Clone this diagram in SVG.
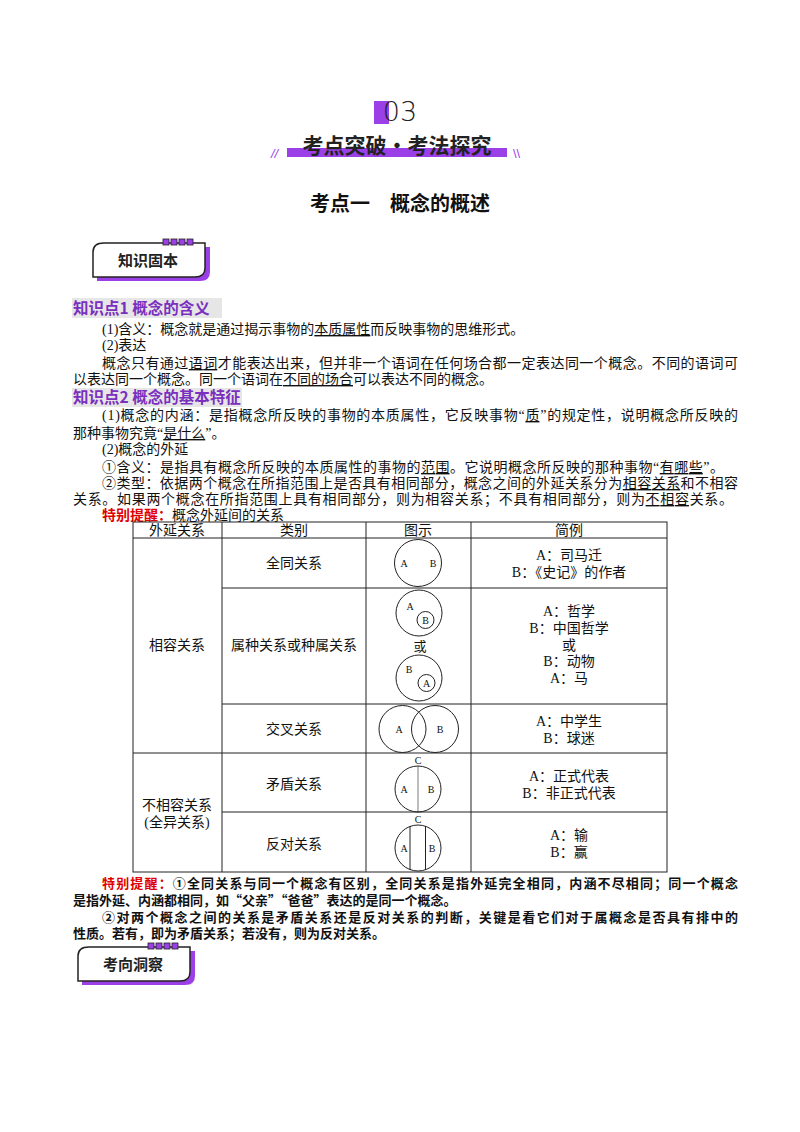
<svg xmlns="http://www.w3.org/2000/svg" width="800" height="1132" viewBox="0 0 800 1132">
<style>
.t{font-family:"Liberation Serif","Noto Sans CJK SC",serif;font-size:14px;fill:#111}
.c{text-anchor:middle}
.h{font-family:"Noto Sans CJK SC",sans-serif;font-weight:bold;font-size:15.5px;fill:#7a2fbf}
.b{font-family:"Noto Sans CJK SC",sans-serif;font-weight:bold}
.red{fill:#e00000;font-weight:bold}
.ln{stroke:#222;stroke-width:1;fill:none}
.sm{font-family:"Liberation Serif",serif;font-size:10px;fill:#111;text-anchor:middle}
.u{text-decoration:underline}
</style>
<rect width="800" height="1132" fill="#fff"/>
<g id="header">
<rect x="374" y="101" width="15" height="23" fill="#9b3fe6"/>
<text x="400" y="121" class="c" font-family="DejaVu Sans,sans-serif" font-size="27" font-weight="300" fill="#222">03</text>
<rect x="287" y="148" width="220" height="9" fill="#9b3fe6"/>
<text x="397" y="153" class="c b" font-size="21" fill="#222">考点突破•考法探究</text>
<text x="271" y="158" font-family="Liberation Sans,sans-serif" font-style="italic" font-size="13" fill="#9b3fe6">//</text>
<text x="513" y="158" font-family="Liberation Sans,sans-serif" font-size="13" fill="#9b3fe6">\\</text>
<text x="400" y="211" class="c b" font-size="20" fill="#111">考点一　概念的概述</text>
</g>
<g id="badge1">
<path d="M97 257 Q97 248 108 247 L210 247 L210 272 Q210 281 200 281 L97 281 Z" fill="#9b3fe6"/>
<path d="M93 252 Q93 243 104 243 L205 243 L205 268 Q205 277 195 277 L93 277 Z" fill="#fff" stroke="#222" stroke-width="1.5"/>
<g fill="#9b3fe6" stroke="#222" stroke-width="0.8"><rect x="163" y="239" width="6" height="6"/><rect x="171" y="239" width="6" height="6"/><rect x="179" y="239" width="6" height="6"/><rect x="187" y="239" width="6" height="6"/></g>
<text x="148" y="266" class="c b" font-size="15" fill="#222">知识固本</text>
</g>
<g id="body">
<rect x="72" y="298" width="150" height="20" fill="#e6e6e6"/>
<text x="73" y="314" class="h">知识点1  概念的含义</text>
<text x="102" y="334" class="t">(1)含义：概念就是通过揭示事物的<tspan class="u">本质属性</tspan>而反映事物的思维形式。</text>
<text x="102" y="350" class="t">(2)表达</text>
<text x="102" y="368" class="t" textLength="636" lengthAdjust="spacing">概念只有通过<tspan class="u">语词</tspan>才能表达出来，但并非一个语词在任何场合都一定表达同一个概念。不同的语词可</text>
<text x="73" y="384" class="t">以表达同一个概念。同一个语词在<tspan class="u">不同的场合</tspan>可以表达不同的概念。</text>
<rect x="72" y="388" width="170" height="19" fill="#e6e6e6"/>
<text x="73" y="403" class="h">知识点2  概念的基本特征</text>
<text x="102" y="420" class="t" textLength="636" lengthAdjust="spacing">(1)概念的内涵：是指概念所反映的事物的本质属性，它反映事物“<tspan class="u">质</tspan>”的规定性，说明概念所反映的</text>
<text x="73" y="438" class="t">那种事物究竟“<tspan class="u">是什么</tspan>”。</text>
<text x="102" y="454" class="t">(2)概念的外延</text>
<text x="102" y="472" class="t" textLength="622" lengthAdjust="spacing">①含义：是指具有概念所反映的本质属性的事物的<tspan class="u">范围</tspan>。它说明概念所反映的那种事物“<tspan class="u">有哪些</tspan>”。</text>
<text x="102" y="488" class="t" textLength="636" lengthAdjust="spacing">②类型：依据两个概念在所指范围上是否具有相同部分，概念之间的外延关系分为<tspan class="u">相容关系</tspan>和不相容</text>
<text x="73" y="504" class="t" textLength="660" lengthAdjust="spacing">关系。如果两个概念在所指范围上具有相同部分，则为相容关系；不具有相同部分，则为<tspan class="u">不相容</tspan>关系。</text>
<text x="102" y="520" class="t"><tspan class="red">特别提醒：</tspan>概念外延间的关系</text>
</g>
<g id="table">
<g class="ln">
<rect x="133" y="522" width="534" height="350"/>
<line x1="133" y1="538" x2="667" y2="538"/>
<line x1="222" y1="588" x2="667" y2="588"/>
<line x1="222" y1="704" x2="667" y2="704"/>
<line x1="133" y1="753" x2="667" y2="753"/>
<line x1="222" y1="812" x2="667" y2="812"/>
<line x1="222" y1="522" x2="222" y2="872"/>
<line x1="366" y1="522" x2="366" y2="872"/>
<line x1="471" y1="522" x2="471" y2="872"/>
</g>
<g class="t c" font-size="13">
<text x="177" y="535">外延关系</text><text x="294" y="535">类别</text><text x="418" y="535">图示</text><text x="569" y="535">简例</text>
<text x="177" y="650">相容关系</text>
<text x="177" y="810">不相容关系</text><text x="177" y="827">(全异关系)</text>
<text x="294" y="568">全同关系</text>
<text x="294" y="650">属种关系或种属关系</text>
<text x="294" y="734">交叉关系</text>
<text x="294" y="789">矛盾关系</text>
<text x="294" y="849">反对关系</text>
<text x="569" y="560">A：司马迁</text><text x="569" y="577">B：《史记》的作者</text>
<text x="569" y="616">A：哲学</text><text x="569" y="633">B：中国哲学</text><text x="569" y="650">或</text><text x="569" y="666">B：动物</text><text x="569" y="683">A：马</text>
<text x="569" y="726">A：中学生</text><text x="569" y="743">B：球迷</text>
<text x="569" y="781">A：正式代表</text><text x="569" y="798">B：非正式代表</text>
<text x="569" y="840">A：输</text><text x="569" y="857">B：赢</text>
</g>
<g id="fig" class="ln">
<circle cx="418" cy="563" r="23.5"/>
<circle cx="419" cy="613" r="23"/><circle cx="425.5" cy="620" r="8.5"/>
<circle cx="419" cy="678" r="23"/><circle cx="426.5" cy="683" r="8.5"/>
<circle cx="402.5" cy="729" r="23.5"/><circle cx="435" cy="729" r="23.5"/>
<circle cx="418" cy="789" r="23"/><line x1="418" y1="766" x2="418" y2="812" stroke-width="0.6"/>
<circle cx="418" cy="848" r="23"/><line x1="410" y1="826" x2="410" y2="870"/><line x1="425.5" y1="826" x2="425.5" y2="870"/>
</g>
<g class="sm">
<text x="404" y="567">A</text><text x="433" y="567">B</text>
<text x="410" y="610">A</text><text x="425.5" y="624">B</text>
<text x="420" y="651" font-size="13" font-family="Noto Sans CJK SC,sans-serif">或</text>
<text x="409" y="673">B</text><text x="426.5" y="687">A</text>
<text x="399" y="733">A</text><text x="440" y="733">B</text>
<text x="418" y="764">C</text><text x="404" y="793">A</text><text x="431" y="793">B</text>
<text x="418" y="823">C</text><text x="404" y="852">A</text><text x="432" y="852">B</text>
</g>
</g>
<g id="note" font-family="Noto Sans CJK SC,sans-serif" font-size="13" font-weight="bold" fill="#111">
<text x="102" y="888" textLength="636" lengthAdjust="spacing"><tspan class="red">特别提醒：</tspan>①全同关系与同一个概念有区别，全同关系是指外延完全相同，内涵不尽相同；同一个概念</text>
<text x="73" y="905">是指外延、内涵都相同，如“父亲”“爸爸”表达的是同一个概念。</text>
<text x="102" y="922" textLength="636" lengthAdjust="spacing">②对两个概念之间的关系是矛盾关系还是反对关系的判断，关键是看它们对于属概念是否具有排中的</text>
<text x="73" y="938">性质。若有，即为矛盾关系；若没有，则为反对关系。</text>
</g>
<g id="badge2">
<path d="M82 960 Q82 951 93 951 L195 951 L195 976 Q195 985 185 985 L82 985 Z" fill="#9b3fe6"/>
<path d="M78 956 Q78 947 89 947 L190 947 L190 972 Q190 981 180 981 L78 981 Z" fill="#fff" stroke="#222" stroke-width="1.5"/>
<g fill="#9b3fe6" stroke="#222" stroke-width="0.8"><rect x="148" y="943" width="6" height="6"/><rect x="156" y="943" width="6" height="6"/><rect x="164" y="943" width="6" height="6"/><rect x="172" y="943" width="6" height="6"/></g>
<text x="133" y="970" class="c b" font-size="15" fill="#222">考向洞察</text>
</g>
</svg>
